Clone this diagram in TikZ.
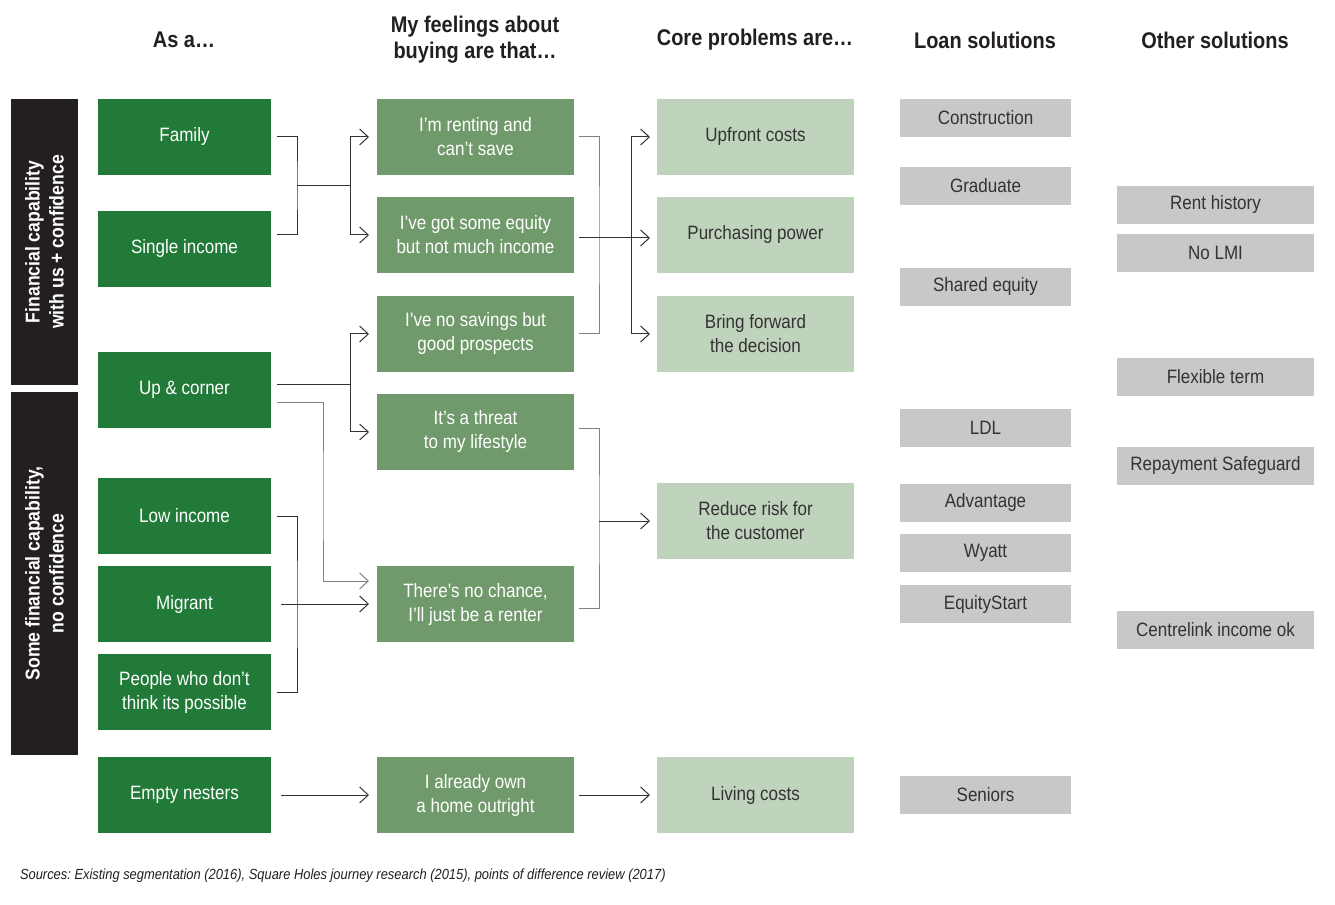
\documentclass[tikz,border=0pt]{standalone}
\usepackage{fontspec}
\setmainfont{Liberation Sans}[FakeStretch=0.88]
\usetikzlibrary{arrows.meta}
\definecolor{segGreen}{RGB}{33,122,56}
\definecolor{feelGreen}{RGB}{112,154,107}
\definecolor{probGreen}{RGB}{192,211,188}
\definecolor{solGray}{RGB}{200,200,200}
\definecolor{barDark}{RGB}{35,31,32}
\definecolor{lineDark}{RGB}{51,51,51}
\definecolor{lineGray}{RGB}{130,130,130}
\frenchspacing

\begin{document}
\begin{tikzpicture}[
  x=0.75pt, y=-0.75pt,
  every node/.style={inner sep=0pt, outer sep=0pt, align=center},
  box/.style={fill=#1, minimum height=57pt, font=\fontsize{14.5}{18}\selectfont},
  seg/.style={box=segGreen, minimum width=129.75pt, text=white},
  feel/.style={box=feelGreen, minimum width=147.75pt, text=white},
  prob/.style={box=probGreen, minimum width=147.75pt, text=lineDark},
  sol/.style={fill=solGray, minimum height=28.5pt, text=lineDark, font=\fontsize{14.5}{18}\selectfont},
  loan/.style={sol, minimum width=128.25pt},
  other/.style={sol, minimum width=147.75pt},
  head/.style={font=\bfseries\fontsize{17}{19.5}\selectfont, text=barDark},
  band/.style={fill=barDark, minimum height=50.25pt, text=white, rotate=90,
               font=\bfseries\fontsize{15}{18}\selectfont},
  ln/.style={draw=lineDark, line width=0.75pt},
  arr/.style={ln, -{Straight Barb[length=6.5pt,width=12pt]}}]
 \fill[white] (0,0) rectangle (1335,905);
 \useasboundingbox (0,0) rectangle (1335,905);
 % column headers
 \node[head] (hAs)    at (184,40)  {As a…};
 \node[head] (hFeel)  at (475,40)  {My feelings about\\buying are that…};
 \node[head] (hCore)  at (755,40)  {Core problems are…};
 \node[head] (hLoan)  at (985,40)  {Loan solutions};
 \node[head] (hOther) at (1215,40) {Other solutions};
 % side bands
 \node[band, minimum width=214.5pt]  (bandTop) at (44.5,242)   {Financial capability\\with us + confidence};
 \node[band, minimum width=272.25pt] (bandBot) at (44.5,573.5) {Some financial capability,\\no confidence};
 % segments
 \node[seg] (fam) at (184.5,137) {Family};
 \node[seg] (sgl) at (184.5,249) {Single income};
 \node[seg] (upc) at (184.5,390) {Up \& corner};
 \node[seg] (low) at (184.5,516) {Low income};
 \node[seg] (mig) at (184.5,604) {Migrant};
 \node[seg] (ppl) at (184.5,692) {People who don’t\\think its possible};
 \node[seg] (emp) at (184.5,795) {Empty nesters};
 % feelings
 \node[feel] (rent)  at (475.5,137) {I’m renting and\\can’t save};
 \node[feel] (eqty)  at (475.5,235) {I’ve got some equity\\but not much income};
 \node[feel] (nosav) at (475.5,334) {I’ve no savings but\\good prospects};
 \node[feel] (thrt)  at (475.5,432) {It’s a threat\\to my lifestyle};
 \node[feel] (nochc) at (475.5,604) {There’s no chance,\\I’ll just be a renter};
 \node[feel] (own)   at (475.5,795) {I already own\\a home outright};
 % core problems
 \node[prob] (upf)  at (755.5,137) {Upfront costs};
 \node[prob] (pur)  at (755.5,235) {Purchasing power};
 \node[prob] (bfw)  at (755.5,334) {Bring forward\\the decision};
 \node[prob] (risk) at (755.5,521) {Reduce risk for\\the customer};
 \node[prob] (liv)  at (755.5,795) {Living costs};
 % loan solutions
 \node[loan] (cons) at (985.5,118)   {Construction};
 \node[loan] (grad) at (985.5,186)   {Graduate};
 \node[loan] (shr)  at (985.5,287)   {Shared equity};
 \node[loan] (ldl)  at (985.5,428)   {LDL};
 \node[loan] (adv)  at (985.5,502.5) {Advantage};
 \node[loan] (wya)  at (985.5,553)   {Wyatt};
 \node[loan] (eqs)  at (985.5,604)   {EquityStart};
 \node[loan] (sen)  at (985.5,795)   {Seniors};
 % other solutions
 \node[other] (rhist) at (1215.5,205) {Rent history};
 \node[other] (nolmi) at (1215.5,253) {No LMI};
 \node[other] (flex)  at (1215.5,377) {Flexible term};
 \node[other] (repay) at (1215.5,466) {Repayment Safeguard};
 \node[other] (cent)  at (1215.5,630) {Centrelink income ok};
 % segments to feelings
 \coordinate (ja) at (297,186);
 \coordinate (jb) at (350,186);
 \coordinate (jc) at (350,385);
 \coordinate (jd) at (323,500);
 \coordinate (je) at (297,604);
 \draw[ln] ([xshift=4.5pt]fam.east) -| (ja) |- ([xshift=4.5pt]sgl.east |- eqty.west);
 \draw[ln] (ja) -- (jb);
 \draw[arr] (jb) |- ([xshift=-6pt]rent.west);
 \draw[arr] (jb) |- ([xshift=-6pt]eqty.west);
 \draw[ln] ([xshift=4.5pt,yshift=3.75pt]upc.east) -- (jc);
 \draw[arr] (jc) |- ([xshift=-6pt]nosav.west);
 \draw[arr] (jc) |- ([xshift=-6pt]thrt.west);
 \draw[arr, draw=lineGray] ([xshift=4.5pt,yshift=-9.75pt]upc.east) -| (jd) |- ([xshift=-6pt,yshift=17.25pt]nochc.west);
 \draw[ln] ([xshift=4.5pt]low.east) -| (je) |- ([xshift=4.5pt]ppl.east);
 \draw[arr] ([xshift=7.5pt]mig.east) -- ([xshift=-6pt]nochc.west);
 \draw[arr] ([xshift=7.5pt]emp.east) -- ([xshift=-6pt]own.west);
 % feelings to core problems
 \coordinate (jf) at (599,235);
 \coordinate (jg) at (631,235);
 \coordinate (jh) at (599,521);
 \draw[ln, draw=lineGray] ([xshift=3.75pt]rent.east) -| (jf) |- ([xshift=3.75pt]nosav.east);
 \draw[arr] ([xshift=3.75pt,yshift=-2.25pt]eqty.east) -- ([xshift=-5.25pt,yshift=-2.25pt]pur.west);
 \draw[arr] (jg) |- ([xshift=-5.25pt]upf.west);
 \draw[arr] (jg) |- ([xshift=-5.25pt]bfw.west);
 \draw[ln, draw=lineGray] ([xshift=3.75pt,yshift=2.25pt]thrt.east) -| (jh) |- ([xshift=3.75pt,yshift=-3pt]nochc.east);
 \draw[arr] (jh) -- ([xshift=-5.25pt]risk.west);
 \draw[arr] ([xshift=3.75pt]own.east) -- ([xshift=-5.25pt]liv.west);
 % source note
 \node[anchor=west, font=\itshape\fontsize{11}{13}\selectfont, text=barDark] (src) at (20,876)
      {Sources: Existing segmentation (2016), Square Holes journey research (2015), points of difference review (2017)};
\end{tikzpicture}
\end{document}
